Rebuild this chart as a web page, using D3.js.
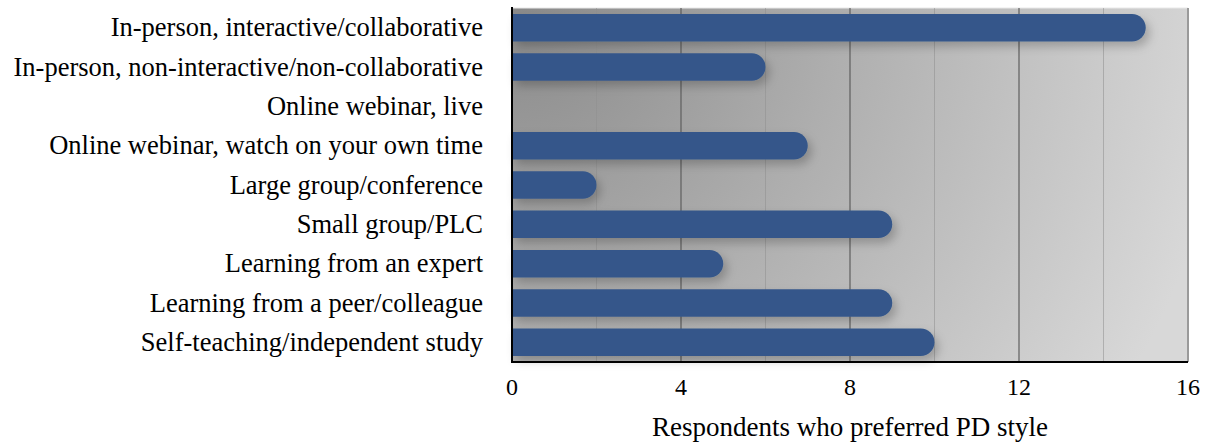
<!DOCTYPE html>
<html><head><meta charset="utf-8">
<script src="https://cdn.jsdelivr.net/npm/d3@7"></script>
<style>body{margin:0;background:#fff}svg{display:block}</style>
</head><body>
<svg id="c" width="1207" height="442"></svg>
<script>
const categories = [
  "In-person, interactive/collaborative",
  "In-person, non-interactive/non-collaborative",
  "Online webinar, live",
  "Online webinar, watch on your own time",
  "Large group/conference",
  "Small group/PLC",
  "Learning from an expert",
  "Learning from a peer/colleague",
  "Self-teaching/independent study"
];
const values = [15, 6, 0, 7, 2, 9, 5, 9, 10];
const majorTicks = [0, 4, 8, 12, 16];
const minorTicks = [2, 6, 10, 14];
const axisTitle = "Respondents who preferred PD style";

const svg = d3.select("#c");
const m = {l: 512, r: 1188, t: 8, b: 362};
const x = d3.scaleLinear().domain([0, 16]).range([m.l, m.r]);
const y = d3.scaleBand().domain(categories).range([m.t, m.b]).paddingInner(0.3).paddingOuter(0.15);

const defs = svg.append("defs");
const rg = defs.append("radialGradient").attr("id", "bg")
  .attr("gradientUnits", "userSpaceOnUse")
  .attr("cx", m.l).attr("cy", m.t).attr("r", 720);
rg.append("stop").attr("offset", "0").attr("stop-color", "#8a8a8a");
rg.append("stop").attr("offset", "0.45").attr("stop-color", "#aeaeae");
rg.append("stop").attr("offset", "1").attr("stop-color", "#d8d8d8");
const f = defs.append("filter").attr("id", "sh").attr("x", "-10%").attr("y", "-50%").attr("width", "130%").attr("height", "250%");
f.append("feDropShadow").attr("dx", 4).attr("dy", 5).attr("stdDeviation", 5)
  .attr("flood-color", "#000").attr("flood-opacity", 0.22);

svg.append("rect").attr("x", m.l).attr("y", m.t).attr("width", m.r - m.l).attr("height", m.b - m.t)
  .attr("fill", "url(#bg)");
svg.append("line").attr("x1", m.l).attr("x2", m.r).attr("y1", m.t).attr("y2", m.t)
  .attr("stroke", "#e8e8e8").attr("stroke-width", 1);

svg.append("g").selectAll("line").data(minorTicks).join("line")
  .attr("x1", d => x(d)).attr("x2", d => x(d)).attr("y1", m.t).attr("y2", m.b)
  .attr("stroke", "#8f8f8f").attr("stroke-opacity", 0.55).attr("stroke-width", 1);
svg.append("g").selectAll("line").data(majorTicks.slice(1)).join("line")
  .attr("x1", d => x(d)).attr("x2", d => x(d)).attr("y1", m.t).attr("y2", m.b)
  .attr("stroke", d => d === 16 ? "#9a9a9a" : "#5e5e5e").attr("stroke-width", d => d === 16 ? 2 : 1.2);

const bh = y.bandwidth();
const barPath = (v, yy) => {
  const x0 = x(0), x1 = x(v), r = bh / 2;
  if (v <= 0) return "";
  return `M${x0},${yy}H${x1 - r}A${r},${r} 0 0 1 ${x1 - r},${yy + bh}H${x0}Z`;
};
svg.append("g").attr("filter", "url(#sh)").selectAll("path").data(categories).join("path")
  .attr("d", (c, i) => barPath(values[i], y(c)))
  .attr("fill", "#34578a");

svg.append("line").attr("x1", m.l).attr("x2", m.l).attr("y1", m.t - 1).attr("y2", m.b + 1)
  .attr("stroke", "#000").attr("stroke-width", 2);
svg.append("line").attr("x1", m.l - 1).attr("x2", m.r).attr("y1", m.b).attr("y2", m.b)
  .attr("stroke", "#000").attr("stroke-width", 2);

const font = "'Liberation Serif', 'Times New Roman', serif";
svg.append("g").selectAll("text").data(categories).join("text")
  .attr("x", 483).attr("y", c => y(c) + bh / 2).attr("dy", "0.33em")
  .attr("text-anchor", "end").attr("font-family", font).attr("font-size", 26.5).attr("fill", "#000")
  .text(c => c);

svg.append("g").selectAll("text").data(majorTicks).join("text")
  .attr("x", d => x(d)).attr("y", 395)
  .attr("text-anchor", "middle").attr("font-family", font).attr("font-size", 24).attr("fill", "#000")
  .text(d => d);

svg.append("text").attr("x", (m.l + m.r) / 2).attr("y", 436)
  .attr("text-anchor", "middle").attr("font-family", font).attr("font-size", 27).attr("fill", "#000")
  .text(axisTitle);
</script>
</body></html>
